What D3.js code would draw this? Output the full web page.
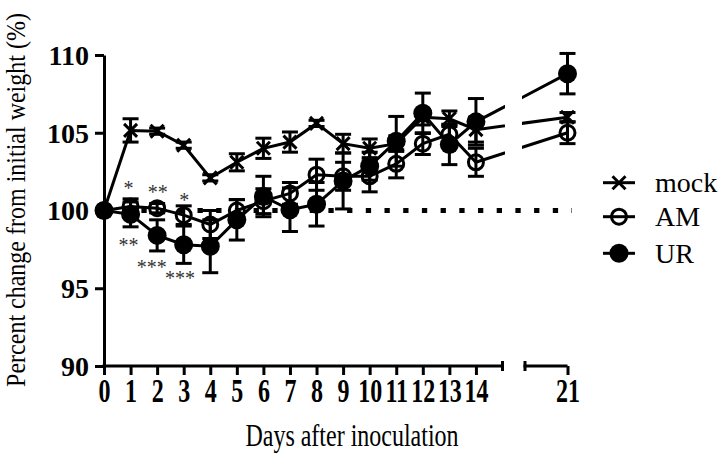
<!DOCTYPE html>
<html><head><meta charset="utf-8">
<script src="https://cdn.jsdelivr.net/npm/d3@7"></script>
<style>html,body{margin:0;padding:0;background:#fff;}svg{display:block;}</style>
</head><body>
<svg id="chart" width="723" height="453"></svg>
<script>
// ---- data ----
const days = [0,1,2,3,4,5,6,7,8,9,10,11,12,13,14,21];
const mockMean = [100,105.15,105.1,104.2,102.1,103.1,104.0,104.4,105.6,104.3,104.0,104.3,106.0,105.9,105.2,106.0];
const mockSem  = [0,0.75,0.2,0.2,0.2,0.55,0.65,0.65,0.2,0.6,0.6,0.5,0.5,0.5,0.8,0.3];
const amMean   = [100,100.25,100.15,99.7,99.1,100.0,100.6,101.1,102.3,102.2,102.2,103.0,104.3,104.9,103.1,105.0];
const amSem    = [0,0.5,0.3,0.6,0.9,0.7,0.8,0.7,1.0,0.9,1.0,0.9,0.7,0.6,0.9,0.7];
const urMean   = [100,99.75,98.4,97.8,97.7,99.4,100.9,100.05,100.4,101.9,102.85,104.45,106.25,104.25,105.7,108.8];
const urSem    = [0,0.8,1.0,1.2,1.7,1.3,1.3,1.4,1.4,1.8,0.9,1.6,1.3,1.3,1.5,1.3];
const seriesNames = ["mock","AM","UR"];
const xTickValues = [0,1,2,3,4,5,6,7,8,9,10,11,12,13,14,21];
const yTickValues = [90,95,100,105,110];
const baselineValue = 100;
const annotations = [
  {day:0.92, pct:101.65, text:"*"},
  {day:2.02, pct:101.37, text:"**"},
  {day:3.02, pct:100.85, text:"*"},
  {day:0.92, pct:97.99, text:"**"},
  {day:1.8,  pct:96.56, text:"***"},
  {day:2.86, pct:95.85, text:"***"}
];

// ---- layout ----
const svg = d3.select("#chart");
svg.append("rect").attr("width",723).attr("height",453).attr("fill","#fff");
const x = d3.scaleLinear().domain([0,15,19.4,21]).range([104,502.5,525,567.5]);
const y = d3.scaleLinear().domain([90,110]).range([366,55]);
const serif = "'Liberation Serif','Times New Roman',serif";

// clip for broken lines
const defs = svg.append("defs");
const cp = defs.append("clipPath").attr("id","brk");
cp.append("rect").attr("x",0).attr("y",0).attr("width",505).attr("height",453);
cp.append("rect").attr("x",522).attr("y",0).attr("width",201).attr("height",453);

// axes
const yAxis = d3.axisLeft(y).tickValues(yTickValues).tickSize(9).tickSizeOuter(0).tickFormat(d3.format("d"));
const gy = svg.append("g").attr("transform",`translate(${x(0)},0)`).call(yAxis);
gy.select(".domain").attr("stroke-width",3);
gy.selectAll(".tick line").attr("stroke-width",3);
gy.selectAll(".tick text").attr("x",-15).attr("dy","0.33em")
  .style("font-family",serif).style("font-weight","bold").style("font-size","28px").attr("fill","#000");

const xAxis = d3.axisBottom(x).tickValues(xTickValues).tickSize(9).tickSizeOuter(0).tickFormat(d3.format("d"));
const gx = svg.append("g").attr("transform",`translate(0,${y(90)})`).call(xAxis);
gx.select(".domain").remove();
gx.selectAll(".tick line").attr("stroke-width",3);
gx.selectAll(".tick text").attr("y",0).attr("dy",0)
  .attr("transform","translate(0,35.7) scale(1,1.37)")
  .style("font-family",serif).style("font-weight","bold").style("font-size","24px").attr("fill","#000");
// broken x-axis domain segments
const segs = [[0,15],[19.4,21]];
segs.forEach(s=>{
  gx.append("line").attr("x1",x(s[0])-1.5).attr("x2",x(s[1])).attr("y1",0).attr("y2",0)
    .attr("stroke","#000").attr("stroke-width",3);
});
// break caps
[[15,-5,5],[19.4,-5,5]].forEach(c=>{
  gx.append("line").attr("x1",x(c[0])).attr("x2",x(c[0])).attr("y1",c[1]).attr("y2",c[2])
    .attr("stroke","#000").attr("stroke-width",3);
});

// dotted baseline
svg.append("line").attr("x1",x(0)).attr("x2",x(21)+4.5).attr("y1",y(baselineValue)).attr("y2",y(baselineValue))
  .attr("stroke","#000").attr("stroke-width",5).attr("stroke-dasharray","5.3,13.4");

// axis titles
svg.append("g").attr("transform","translate(25,200) rotate(-90) scale(1,1.15)")
  .append("text").attr("text-anchor","middle").style("font-family",serif).style("font-size","24px")
  .text("Percent change from initial weight (%)");
svg.append("g").attr("transform","translate(352,446) scale(1,1.35)")
  .append("text").attr("text-anchor","middle").style("font-family",serif).style("font-size","24px")
  .text("Days after inoculation");

// series
const series = [
  {name:seriesNames[0], mean:mockMean, sem:mockSem, marker:"x"},
  {name:seriesNames[1], mean:amMean, sem:amSem, marker:"open"},
  {name:seriesNames[2], mean:urMean, sem:urSem, marker:"filled"}
];
function drawMarker(g, type, cx, cy){
  if(type==="x"){
    const a=6.5;
    g.append("path").attr("d",`M${cx-a},${cy-a}L${cx+a},${cy+a}M${cx-a},${cy+a}L${cx+a},${cy-a}`)
      .attr("stroke","#000").attr("stroke-width",3).attr("fill","none");
  } else if(type==="open"){
    g.append("circle").attr("cx",cx).attr("cy",cy).attr("r",7.5).attr("fill","none")
      .attr("stroke","#000").attr("stroke-width",3);
  } else {
    g.append("circle").attr("cx",cx).attr("cy",cy).attr("r",9.5).attr("fill","#000");
  }
}
const line = d3.line().x(d=>x(d.day)).y(d=>y(d.v));
series.forEach(s=>{
  const g = svg.append("g");
  const pts = days.map((d,i)=>({day:d, v:s.mean[i], e:s.sem[i]}));
  g.append("path").datum(pts).attr("d",line).attr("fill","none").attr("stroke","#000")
    .attr("stroke-width",3).attr("clip-path","url(#brk)");
  pts.forEach(p=>{
    if(p.e>0){
      const cx=x(p.day), y1=y(p.v+p.e), y2=y(p.v-p.e);
      g.append("line").attr("x1",cx).attr("x2",cx).attr("y1",y1).attr("y2",y2).attr("stroke","#000").attr("stroke-width",3);
      [y1,y2].forEach(yy=>g.append("line").attr("x1",cx-8).attr("x2",cx+8).attr("y1",yy).attr("y2",yy)
        .attr("stroke","#000").attr("stroke-width",3));
    }
  });
  pts.forEach(p=>drawMarker(g, s.marker, x(p.day), y(p.v)));
});

// significance annotations
svg.append("g").selectAll("text").data(annotations).join("text")
  .attr("x",d=>x(d.day)).attr("y",d=>y(d.pct)).attr("dy","0.5em").attr("text-anchor","middle")
  .style("font-family",serif).style("font-size","20px").attr("fill","#333").text(d=>d.text);

// legend
const legY = [182.7,216.7,253.3];
const lg = svg.append("g");
series.forEach((s,i)=>{
  lg.append("line").attr("x1",603).attr("x2",635).attr("y1",legY[i]).attr("y2",legY[i])
    .attr("stroke","#000").attr("stroke-width",3);
  drawMarker(lg, s.marker, 619, legY[i]);
  lg.append("text").attr("x",655).attr("y",legY[i]+9.5).style("font-family",serif)
    .style("font-size","28px").text(s.name);
});
</script>
</body></html>
